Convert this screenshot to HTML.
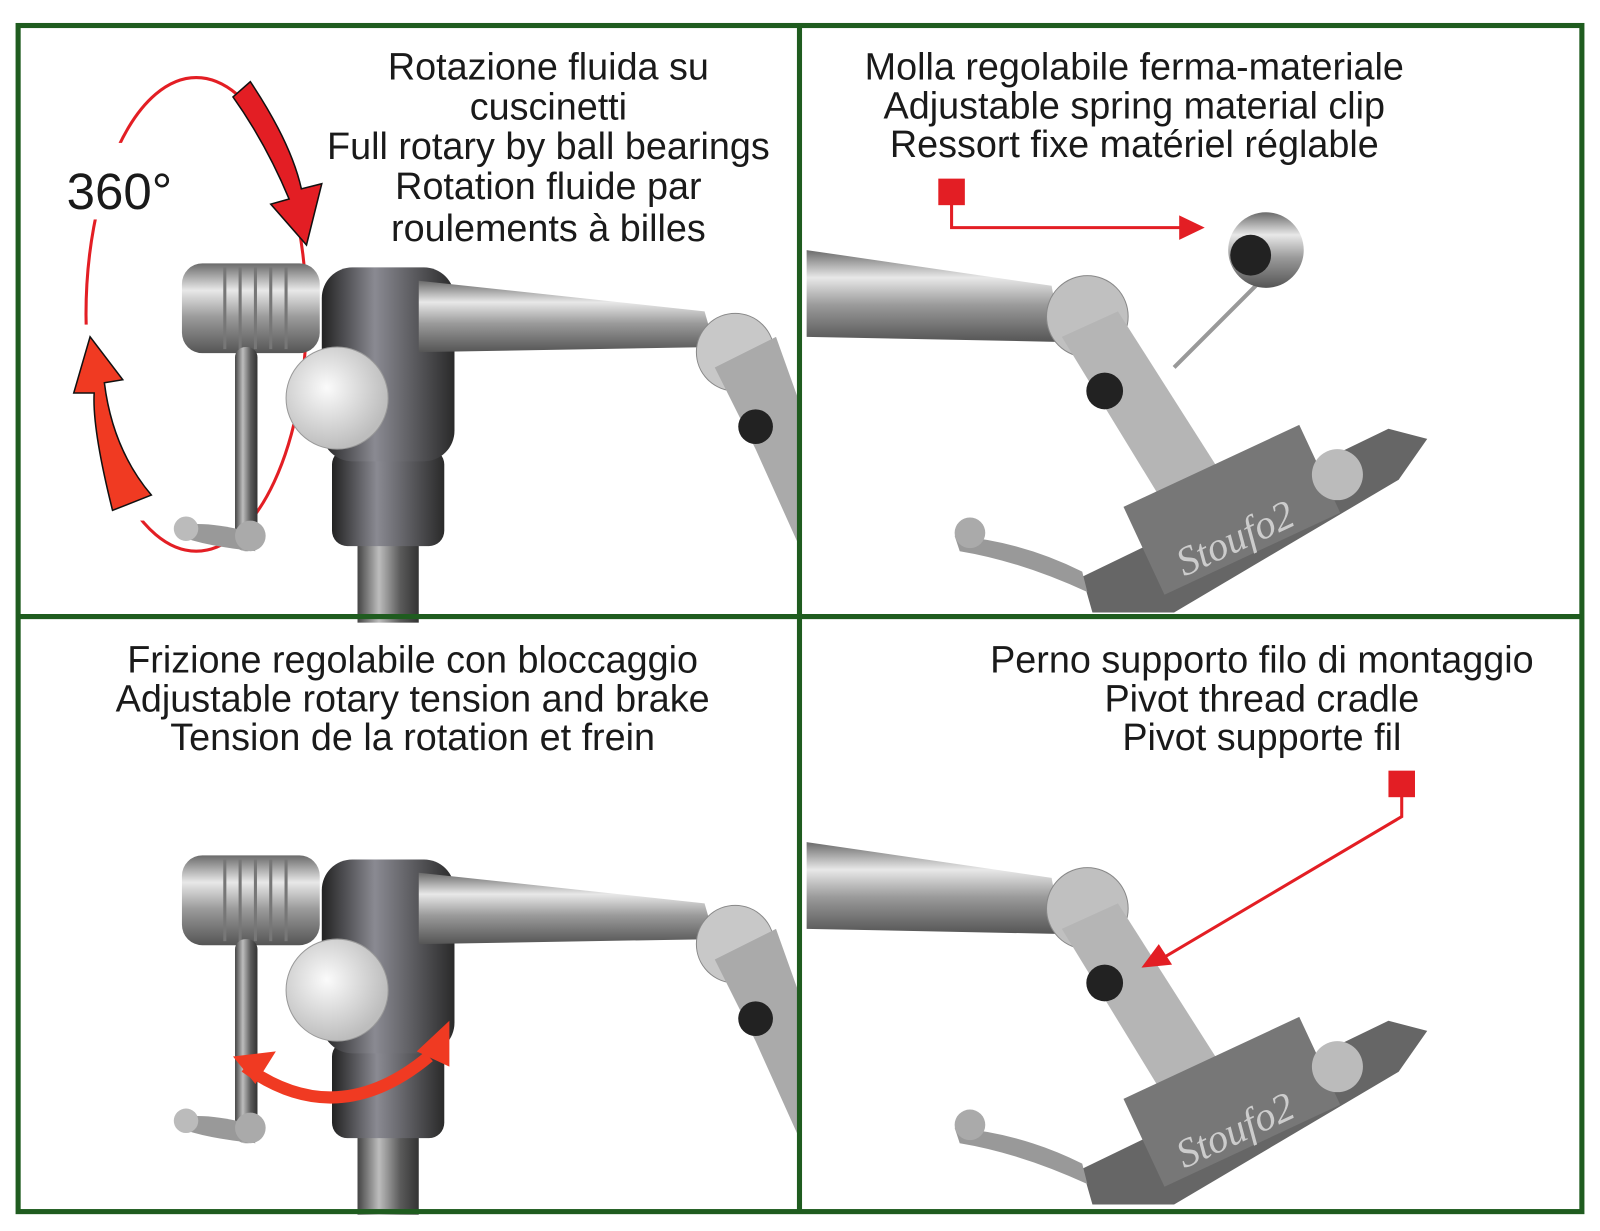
<!DOCTYPE html>
<html><head><meta charset="utf-8"><style>
html,body{margin:0;padding:0;background:#fff;}
svg{display:block;}
text{font-family:"Liberation Sans",Arial,sans-serif;fill:#1a1a1a;}
</style></head><body>
<svg width="1600" height="1231" viewBox="0 0 1567 1206" xmlns="http://www.w3.org/2000/svg">
<defs>
<linearGradient id="metal" x1="0" y1="0" x2="0" y2="1">
<stop offset="0" stop-color="#6b6b6b"/><stop offset="0.3" stop-color="#e8e8e8"/><stop offset="0.6" stop-color="#9a9a9a"/><stop offset="1" stop-color="#555"/></linearGradient>
<linearGradient id="metalv" x1="0" y1="0" x2="1" y2="0">
<stop offset="0" stop-color="#444"/><stop offset="0.35" stop-color="#bdbdbd"/><stop offset="0.7" stop-color="#5a5a5a"/><stop offset="1" stop-color="#333"/></linearGradient>
<linearGradient id="dark" x1="0" y1="0" x2="1" y2="0">
<stop offset="0" stop-color="#222"/><stop offset="0.4" stop-color="#8a8a92"/><stop offset="1" stop-color="#2a2a2a"/></linearGradient>
<radialGradient id="knob" cx="0.4" cy="0.4" r="0.6"><stop offset="0" stop-color="#fbfbfb"/><stop offset="1" stop-color="#bdbdbd"/></radialGradient>
<g id="vise">
<rect x="350" y="520" width="60" height="90" fill="url(#metalv)"/>
<rect x="325" y="440" width="110" height="95" rx="15" fill="url(#dark)"/>
<rect x="315" y="262" width="130" height="190" rx="30" fill="url(#dark)"/>
<polygon points="410,275 690,305 700,340 410,345" fill="url(#metal)"/>
<circle cx="720" cy="345" r="38" fill="#c8c8c8" stroke="#888"/>
<polygon points="700,360 760,330 785,400 785,540 740,440" fill="#aaa"/>
<circle cx="740" cy="418" r="17" fill="#222"/>
<rect x="178" y="258" width="135" height="88" rx="20" fill="url(#metal)"/>
<g stroke="#777" stroke-width="3"><line x1="220" y1="262" x2="220" y2="342"/><line x1="235" y1="262" x2="235" y2="342"/><line x1="250" y1="262" x2="250" y2="342"/><line x1="265" y1="262" x2="265" y2="342"/><line x1="280" y1="262" x2="280" y2="342"/></g>
<rect x="230" y="340" width="22" height="200" rx="10" fill="url(#metalv)"/>
<path d="M175,515 Q200,510 240,520 L250,540 Q200,535 175,525Z" fill="#999"/>
<circle cx="245" cy="525" r="15" fill="#aaa"/>
<circle cx="182" cy="518" r="12" fill="#bbb"/>
<circle cx="330" cy="390" r="50" fill="url(#knob)" stroke="#999"/>
</g>
<g id="jaw">
<polygon points="790,245 1030,280 1040,335 790,330" fill="url(#metal)"/>
<circle cx="1065" cy="310" r="40" fill="#c0c0c0" stroke="#888"/>
<polygon points="1040,330 1095,305 1200,470 1150,510" fill="#b5b5b5"/>
<circle cx="1082" cy="383" r="18" fill="#222"/>
<polygon points="1060,565 1360,420 1398,430 1370,470 1150,600 1070,600" fill="#666"/>
<rect x="1130" y="490" width="190" height="95" transform="rotate(-25 1130 560)" fill="#777"/>
<text x="1160" y="565" transform="rotate(-25 1160 565)" style="font-family:'Liberation Serif',serif;font-style:italic;font-size:40px;fill:#ccc">Stoufo2</text>
<circle cx="1310" cy="465" r="25" fill="#bbb"/>
<path d="M935,525 Q1000,530 1060,560 L1065,580 Q1000,550 940,540Z" fill="#999"/>
<circle cx="950" cy="522" r="15" fill="#aaa"/>
</g>
</defs>

<!-- 360 ellipse (behind vise) -->
<ellipse cx="192" cy="308" rx="108" ry="232" fill="none" stroke="#e31e24" stroke-width="3"/>
<rect x="60" y="140" width="70" height="75" fill="#fff"/>
<rect x="70" y="318" width="40" height="180" fill="#fff"/>
<rect x="100" y="480" width="50" height="30" fill="#fff"/>

<use href="#vise"/>
<use href="#vise" transform="translate(0,580)"/>
<use href="#jaw"/>
<use href="#jaw" transform="translate(0,580)"/>

<!-- spring clip -->
<line x1="1150" y1="360" x2="1240" y2="270" stroke="#999" stroke-width="4"/>
<circle cx="1240" cy="245" r="37" fill="url(#metal)"/>
<circle cx="1225" cy="250" r="20" fill="#222"/>

<path d="M228,95 L245,80 Q285,140 295,185 L315,180 L300,240 L265,200 L283,195 Q260,140 228,95Z" fill="#e31e24" stroke="#111" stroke-width="1.5"/>
<path d="M148,485 L110,500 Q90,420 92,385 L72,385 L88,330 L120,372 L102,375 Q110,440 148,485Z" fill="#f03a22" stroke="#111" stroke-width="1.5"/>
<text x="65" y="205" style="font-size:50px">360°</text>

<!-- bottom-left double arrow -->
<path d="M240,1045 Q330,1110 420,1035" fill="none" stroke="#f03a22" stroke-width="12"/>
<polygon points="228,1035 270,1030 250,1062" fill="#f03a22"/>
<polygon points="440,1000 440,1045 408,1030" fill="#f03a22"/>

<!-- top-right callout -->
<rect x="919" y="175" width="26" height="26" fill="#e31e24"/>
<polyline points="932,200 932,223 1158,223" fill="none" stroke="#e31e24" stroke-width="3"/>
<polygon points="1180,223 1155,211 1155,235" fill="#e31e24"/>

<!-- bottom-right callout -->
<rect x="1360" y="755" width="26" height="26" fill="#e31e24"/>
<polyline points="1373,780 1373,800 1140,938" fill="none" stroke="#e31e24" stroke-width="3"/>
<polygon points="1118,948 1135,925 1148,945" fill="#e31e24"/>

<!-- grid -->
<g stroke="#1f5c1f" stroke-width="5" fill="none">
<rect x="17.5" y="25" width="1532" height="1162"/>
<line x1="783" y1="25" x2="783" y2="1187"/>
<line x1="17.5" y1="604" x2="1549.5" y2="604"/>
</g>

<g text-anchor="middle" style="font-size:37px">
<text x="537" y="78">Rotazione fluida su</text>
<text x="537" y="117">cuscinetti</text>
<text x="537" y="156">Full rotary by ball bearings</text>
<text x="537" y="195">Rotation fluide par</text>
<text x="537" y="236">roulements à billes</text>
<text x="1111" y="78">Molla regolabile ferma-materiale</text>
<text x="1111" y="116">Adjustable spring material clip</text>
<text x="1111" y="154">Ressort fixe matériel réglable</text>
<text x="404" y="659">Frizione regolabile con bloccaggio</text>
<text x="404" y="697">Adjustable rotary tension and brake</text>
<text x="404" y="735">Tension de la rotation et frein</text>
<text x="1236" y="659">Perno supporto filo di montaggio</text>
<text x="1236" y="697">Pivot thread cradle</text>
<text x="1236" y="735">Pivot supporte fil</text>
</g>
</svg>
</body></html>
